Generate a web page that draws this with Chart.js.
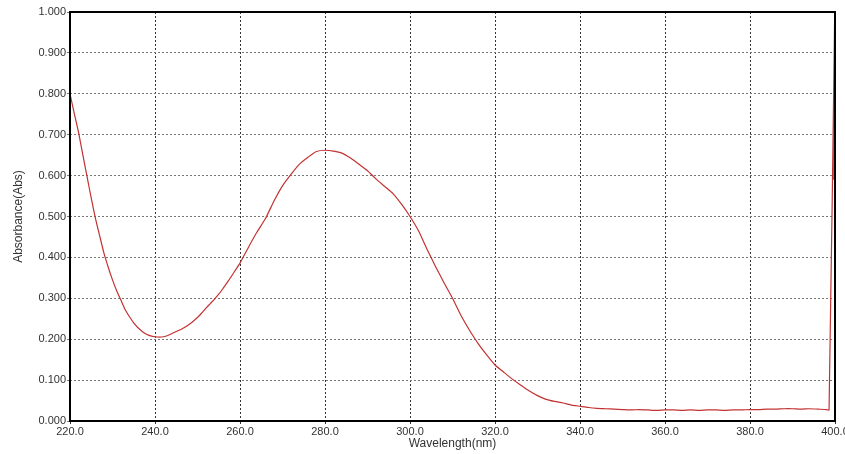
<!DOCTYPE html>
<html>
<head>
<meta charset="utf-8">
<script src="https://cdn.jsdelivr.net/npm/chart.js@4/dist/chart.umd.min.js"></script>
<style>
  body { margin: 0; background: #fff; }
  canvas { display: block; }
</style>
</head>
<body>
<canvas id="abs_chart" width="845" height="454"></canvas>
<script>
// spectrum
var wavelength = [220, 221, 222, 223, 224, 225, 226, 227, 228, 229, 230, 231, 232, 233, 234, 235, 236, 237, 238, 239,
    240, 241, 242, 243, 244, 245, 246, 247, 248, 249, 250, 251, 252, 253, 254, 255, 256, 257, 258, 259,
    260, 262, 264, 266, 268, 270, 272, 274, 276, 278, 280, 282, 284, 286, 288, 290, 292, 294, 296, 298,
    300, 302, 304, 306, 308, 310, 312, 314, 316, 318, 320, 322, 324, 326, 328, 330, 332, 334, 336, 338,
    340, 342, 344, 346, 348, 350, 352, 354, 356, 358, 360, 362, 364, 366, 368, 370, 372, 374, 376, 378,
    380, 382, 384, 386, 388, 390, 392, 394, 396, 398, 398.6, 400];
var absorbance = [0.800, 0.752, 0.706, 0.652, 0.598, 0.545, 0.495, 0.452, 0.410, 0.376, 0.345, 0.318, 0.295, 0.272, 0.255, 0.240, 0.228, 0.219, 0.212, 0.208,
    0.206, 0.205, 0.206, 0.209, 0.214, 0.219, 0.223, 0.229, 0.236, 0.244, 0.253, 0.264, 0.276, 0.287, 0.298, 0.310, 0.324, 0.339, 0.354, 0.370,
    0.386, 0.425, 0.462, 0.495, 0.538, 0.575, 0.603, 0.628, 0.645, 0.659, 0.662, 0.660, 0.655, 0.643, 0.628, 0.612, 0.592, 0.574, 0.556, 0.530,
    0.500, 0.465, 0.420, 0.378, 0.338, 0.300, 0.258, 0.222, 0.190, 0.162, 0.137, 0.120, 0.103, 0.088, 0.074, 0.062, 0.053, 0.048, 0.044, 0.039,
    0.036, 0.033, 0.031, 0.030, 0.029, 0.028, 0.027, 0.028, 0.027, 0.026, 0.027, 0.027, 0.026, 0.027, 0.026, 0.027, 0.027, 0.026, 0.027, 0.027,
    0.028, 0.028, 0.029, 0.029, 0.030, 0.030, 0.029, 0.030, 0.029, 0.028, 0.027, 1.050];

// cursor mark at the right edge
var cursor_x = [400, 400];
var cursor_y = [0.755, 0.590];

var x_min = 220, x_max = 400, x_step = 20;
var y_min = 0, y_max = 1, y_step = 0.1;

var spectrum = wavelength.map(function (w, i) { return { x: w, y: absorbance[i] }; });
var cursor = cursor_x.map(function (w, i) { return { x: w, y: cursor_y[i] }; });

// black frame around the plot
var frame_plugin = {
    id: 'frame',
    afterDraw: function (chart) {
        var a = chart.chartArea;
        var ctx = chart.ctx;
        ctx.save();
        ctx.strokeStyle = '#000';
        ctx.lineWidth = 2;
        ctx.strokeRect(a.left, a.top, a.right - a.left, a.bottom - a.top);
        ctx.restore();
    }
};

var abs_chart = new Chart(document.getElementById('abs_chart'), {
    type: 'line',
    data: {
        datasets: [{
            data: spectrum,
            borderColor: 'rgb(195, 50, 50)',
            borderWidth: 1.2,
            pointRadius: 0,
            tension: 0.2,
        },
        {
            data: cursor,
            borderColor: '#000',
            borderWidth: 3,
            pointRadius: 0,
        }]
    },
    options: {
        responsive: false,
        animation: false,
        layout: {
            padding: { top: 12, right: 10, left: 0, bottom: 0 }
        },
        plugins: {
            legend: { display: false },
            tooltip: { enabled: false },
        },
        scales: {
            x: {
                type: 'linear',
                min: x_min,
                max: x_max,
                ticks: {
                    stepSize: x_step,
                    autoSkip: false,
                    maxRotation: 0,
                    padding: 1,
                    color: '#333',
                    font: { family: 'Liberation Sans', size: 11 },
                    callback: function (v) { return v.toFixed(1); }
                },
                grid: {
                    color: '#333',
                    lineWidth: 1,
                    tickLength: 3,
                },
                border: { display: false, dash: [2, 2] },
                title: {
                    display: true,
                    text: 'Wavelength(nm)',
                    color: '#333',
                    font: { family: 'Liberation Sans', size: 12 },
                    padding: { top: 0, bottom: 3 }
                },
                afterFit: function (scale) {
                    scale.height = 33;
                    scale.paddingLeft = 0;
                    scale.paddingRight = 0;
                }
            },
            y: {
                min: y_min,
                max: y_max,
                ticks: {
                    stepSize: y_step,
                    padding: 1,
                    color: '#333',
                    font: { family: 'Liberation Sans', size: 11 },
                    callback: function (v) { return v.toFixed(3); }
                },
                grid: {
                    color: '#777',
                    lineWidth: 1,
                    tickLength: 3,
                },
                border: { display: false, dash: [2, 2] },
                title: {
                    display: true,
                    text: 'Absorbance(Abs)',
                    color: '#333',
                    font: { family: 'Liberation Sans', size: 12 },
                    padding: { top: 11, bottom: 0 }
                },
                afterFit: function (scale) {
                    scale.width = 70;
                    scale.paddingTop = 0;
                    scale.paddingBottom = 0;
                }
            }
        }
    },
    plugins: [frame_plugin]
});
</script>
</body>
</html>
